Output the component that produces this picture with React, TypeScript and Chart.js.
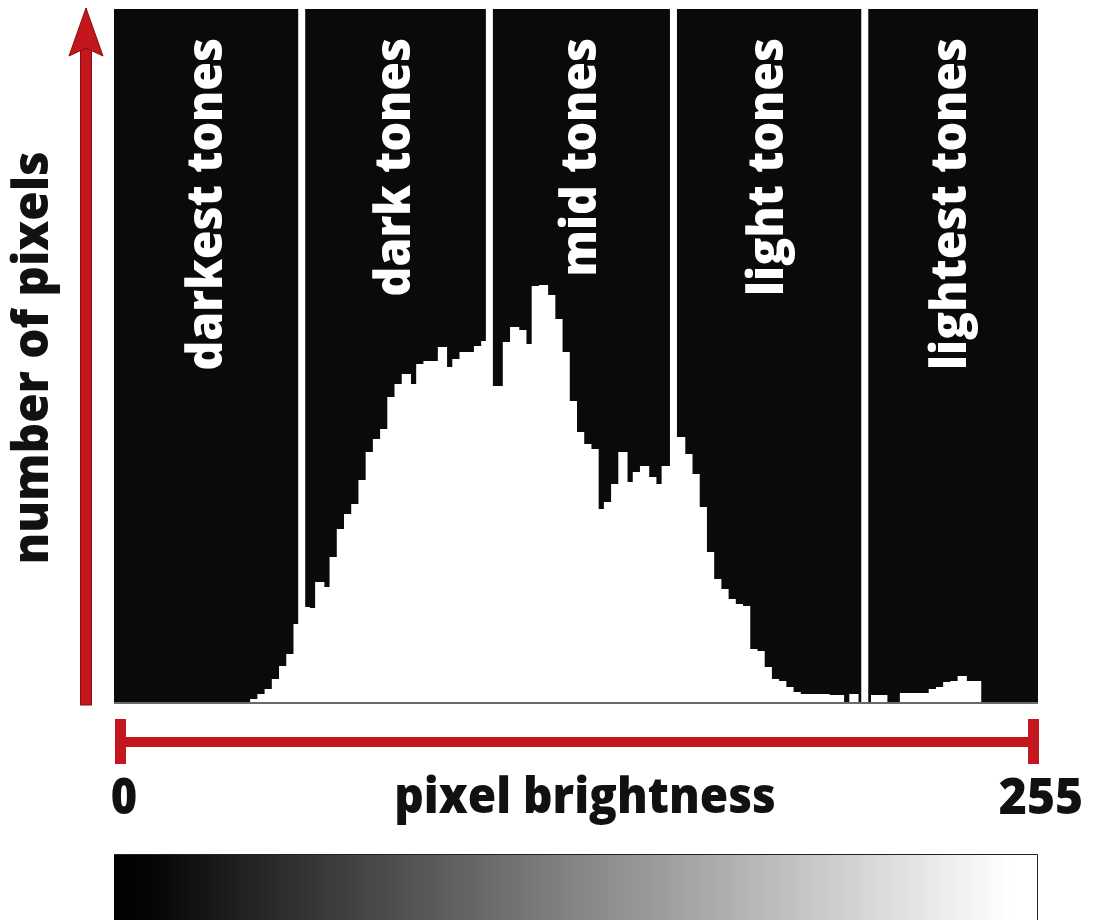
import React, { useEffect, useRef } from "react";
import { Chart, registerables } from "chart.js";

Chart.register(...registerables);

// ---- data ----
const BIN_WIDTH = 2; // brightness levels per histogram bar (128 bars cover 0..255)
const pixelCounts: number[] = [
  0, 0, 0, 0, 0, 0, 0, 0, 0, 0, 0, 0, 0, 0, 0, 0, 0, 0, 0,
  3, 8, 13, 23, 36, 48, 78, 95, 94, 120,
  115, 145, 173, 188, 198, 222, 250, 263, 273, 305,
  318, 328, 318, 338, 341, 341, 355, 335, 343, 350,
  350, 356, 361, 316, 316, 360, 375, 372, 358, 416,
  417, 407, 383, 350, 301, 270, 258, 253, 193, 200,
  218, 250, 220, 230, 236, 225, 218, 236, 236, 265,
  248, 228, 195, 150, 123, 113, 103, 98, 96, 53,
  51, 35, 23, 21, 15, 10, 8, 8, 8, 8,
  7, 7, 0, 8, 0, 0, 7, 7, 0, 0,
  9, 9, 9, 9, 13, 15, 20, 21, 26, 21,
  21,
  0, 0, 0, 0, 0, 0, 0, 0,
];
const binLabels: string[] = pixelCounts.map((_, i) => String(i * BIN_WIDTH));
const zoneBoundaries: number[] = [52, 104, 155, 208]; // brightness values
const zoneLabels: string[] = ["darkest tones", "dark tones", "mid tones", "light tones", "lightest tones"];
const xAxisTitle = "pixel brightness";
const yAxisTitle = "number of pixels";
const rangeLabels: string[] = ["0", "255"];
const Y_MAX = 694;

const RED = "#c4161d";
const RED_EDGE = "#8a0c10";
const FONT = "'Open Sans', 'DejaVu Sans', sans-serif";
const WEIGHT = 800;

function drawText(
  ctx: CanvasRenderingContext2D,
  text: string,
  x: number,
  y: number,
  o: { size: number; color: string; rotate?: number; align?: CanvasTextAlign; baseline?: CanvasTextBaseline; condense?: number }
) {
  ctx.save();
  ctx.translate(x, y);
  if (o.rotate) ctx.rotate(o.rotate);
  ctx.scale(o.condense ?? 1, 1);
  ctx.font = `${WEIGHT} ${o.size}px ${FONT}`;
  ctx.fillStyle = o.color;
  ctx.textAlign = o.align ?? "center";
  ctx.textBaseline = o.baseline ?? "alphabetic";
  ctx.fillText(text, 0, 0);
  ctx.restore();
}

const decorPlugin = {
  id: "decor",
  beforeDraw(chart: any) {
    const { ctx, chartArea: a } = chart;
    ctx.save();
    ctx.fillStyle = "#ffffff";
    ctx.fillRect(0, 0, chart.width, chart.height);
    ctx.fillStyle = "#0a0a0a";
    ctx.fillRect(a.left, a.top, a.right - a.left, a.bottom - a.top);
    ctx.restore();
  },
  afterDatasetsDraw(chart: any) {
    const { ctx, chartArea: a } = chart;
    const xs = chart.scales.x;
    const bx = (b: number) => xs.getPixelForValue(b / BIN_WIDTH - 0.5);

    ctx.save();
    // bottom line of plot
    ctx.fillStyle = "#6a6a6a";
    ctx.fillRect(a.left, a.bottom - 1, a.right - a.left, 2);

    // zone separators
    ctx.fillStyle = "#ffffff";
    zoneBoundaries.forEach((b) => {
      const px = bx(b);
      ctx.fillRect(px - 3.5, a.top, 7, a.bottom - 1 - a.top);
    });

    // zone labels
    const edges = [a.left, ...zoneBoundaries.map(bx), a.right];
    zoneLabels.forEach((lab, i) => {
      const cx = (edges[i] + edges[i + 1]) / 2;
      drawText(ctx, lab, cx, a.top + 29, {
        size: 50, color: "#ffffff", rotate: -Math.PI / 2, align: "right", baseline: "middle", condense: 0.93,
      });
    });

    // vertical red arrow
    const ax = a.left - 28;
    ctx.fillStyle = RED;
    ctx.strokeStyle = RED_EDGE;
    ctx.lineWidth = 1;
    ctx.fillRect(ax - 5.5, 48, 11, a.bottom + 2 - 48);
    ctx.strokeRect(ax - 5.5, 48, 11, a.bottom + 2 - 48);
    ctx.beginPath();
    ctx.moveTo(ax, 8);
    ctx.lineTo(ax + 17, 56);
    ctx.lineTo(ax, 48);
    ctx.lineTo(ax - 17, 56);
    ctx.closePath();
    ctx.fill();
    ctx.stroke();

    // horizontal red range bar
    const ly = 742;
    ctx.fillStyle = RED;
    ctx.fillRect(a.left + 6, ly - 5, a.right - a.left - 12, 10);
    ctx.fillRect(a.left + 1, ly - 23, 11, 45);
    ctx.fillRect(a.right - 10, ly - 23, 11, 45);

    // axis texts
    drawText(ctx, rangeLabels[0], a.left + 10, 814, { size: 49, color: "#111", align: "center", condense: 0.92 });
    drawText(ctx, rangeLabels[1], a.right + 3, 814, { size: 49, color: "#111", align: "center", condense: 0.98 });
    drawText(ctx, xAxisTitle, (a.left + a.right) / 2 + 9, 813, { size: 50, color: "#111", align: "center", condense: 0.92 });
    drawText(ctx, yAxisTitle, 34, 358, { size: 50, color: "#111", rotate: -Math.PI / 2, align: "center", baseline: "middle", condense: 0.95 });

    // gradient bar
    const gy = 854;
    const g = ctx.createLinearGradient(a.left, 0, a.right, 0);
    g.addColorStop(0, "#000000");
    g.addColorStop(0.04, "#050505");
    g.addColorStop(0.5, "#858585");
    g.addColorStop(0.97, "#ffffff");
    g.addColorStop(1, "#ffffff");
    ctx.fillStyle = g;
    ctx.fillRect(a.left, gy, a.right - a.left, chart.height - gy);
    ctx.strokeStyle = "#222";
    ctx.lineWidth = 1;
    ctx.beginPath();
    ctx.moveTo(a.left, gy + 0.5);
    ctx.lineTo(a.right - 0.5, gy + 0.5);
    ctx.lineTo(a.right - 0.5, chart.height);
    ctx.stroke();
    ctx.restore();
  },
};

export default function App() {
  const ref = useRef<HTMLCanvasElement | null>(null);
  useEffect(() => {
    if (!ref.current) return;
    const chart = new Chart(ref.current, {
      type: "bar",
      data: {
        labels: binLabels,
        datasets: [
          {
            data: pixelCounts,
            backgroundColor: "#ffffff",
            borderWidth: 0,
            inflateAmount: 1,
            barPercentage: 1,
            categoryPercentage: 1,
          } as any,
        ],
      },
      options: {
        responsive: false,
        animation: false,
        devicePixelRatio: 1,
        layout: { padding: { left: 114, right: 69, top: 9, bottom: 217 } },
        plugins: { legend: { display: false }, tooltip: { enabled: false }, title: { display: false } },
        scales: {
          x: { display: false, offset: true, grid: { display: false } },
          y: { display: false, min: 0, max: Y_MAX, grid: { display: false } },
        },
      },
      plugins: [decorPlugin],
    });
    return () => chart.destroy();
  }, []);
  return (
    <div style={{ position: "absolute", left: 0, top: 0, width: 1107, height: 920, overflow: "hidden", background: "#fff" }}>
      <canvas ref={ref} width={1107} height={920} style={{ display: "block", width: 1107, height: 920 }} />
    </div>
  );
}
